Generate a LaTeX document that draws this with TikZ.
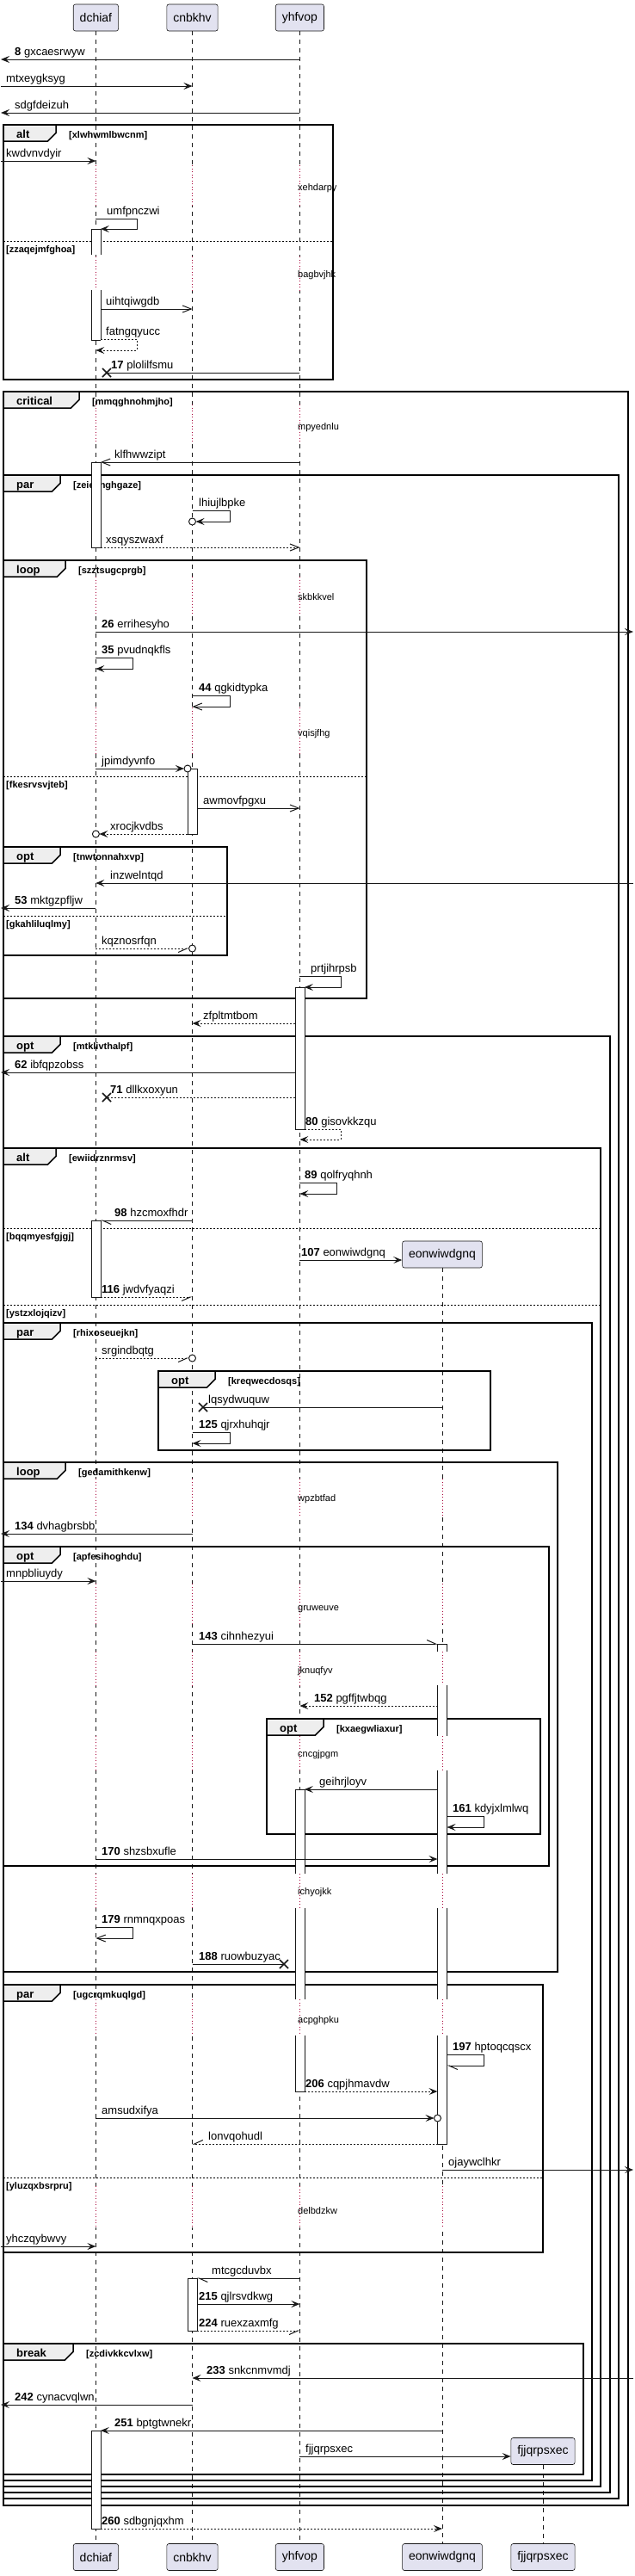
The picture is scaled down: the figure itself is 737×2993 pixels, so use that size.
\documentclass[tikz,border=0pt]{standalone}
\usepackage{fontspec}
\setmainfont{Liberation Sans}
\usepackage{tikz}
\usetikzlibrary{arrows.meta, positioning}

\definecolor{linec}{HTML}{181818}
\definecolor{partfill}{HTML}{E2E2F0}
\definecolor{tabfill}{HTML}{EEEEEE}
\definecolor{dlyc}{HTML}{A80036}

\begin{document}
\begin{tikzpicture}[x=1pt, y=-1pt,
  every node/.style={font=\fontsize{13}{15}\selectfont, inner sep=0pt},
  part/.style={draw=linec, fill=partfill, rounded corners=2.5pt, line width=0.6pt,
               minimum height=31pt, inner xsep=7.5pt, font=\fontsize{14}{16}\selectfont},
  life/.style={linec, line width=0.5pt, dash pattern=on 5pt off 5pt},
  dly/.style={dlyc, line width=0.8pt, dash pattern=on 1pt off 2.5pt},
  dlytxt/.style={anchor=base west, font=\fontsize{11}{13}\selectfont},
  msg/.style={linec, line width=1pt, -{Stealth[length=10pt, width=8pt, inset=4pt]}},
  opn/.style={linec, line width=1pt, -{Straight Barb[length=10pt, width=8pt]}},
  hpl/.style={linec, line width=1pt, -{Straight Barb[length=10pt, width=9pt, harpoon]}},
  hsw/.style={linec, line width=1pt, -{Straight Barb[length=10pt, width=9pt, harpoon, swap]}},
  lnx/.style={linec, line width=1pt},
  rtn/.style={dash pattern=on 2pt off 2pt},
  lbl/.style={anchor=base west},
  xmark/.style={linec, line width=1.5pt},
  endo/.style={draw=linec, fill=white, line width=1pt},
  actbar/.style={draw=linec, fill=white, line width=0.8pt},
  actline/.style={linec, line width=0.8pt},
  frm/.style={draw=black, line width=1.5pt},
  frmtab/.style={draw=black, fill=tabfill, line width=1.5pt},
  tabtxt/.style={anchor=base west, font=\bfseries\fontsize{13}{15}\selectfont},
  cond/.style={anchor=base west, font=\bfseries\fontsize{11}{13}\selectfont},
  divi/.style={black, line width=0.8pt, dash pattern=on 2pt off 2pt},
]
  \useasboundingbox (0,0) rectangle (737,2993);
  \coordinate (lft) at (1,0);
  \coordinate (rgt) at (736,0);

  % participants
  \node[part] (dc) at (111.4,20.5) {dchiaf};
  \node[part] (cn) at (223.5,20.5) {cnbkhv};
  \node[part] (yh) at (348.4,20.5) {yhfvop};
  \node[part] (eo) at (514,1457.5) {eonwiwdgnq};
  \node[part] (fj) at (631,2848) {fjjqrpsxec};
  \node[part] (dcb) at (111.4,2971) {dchiaf};
  \node[part] (cnb) at (223.5,2971) {cnbkhv};
  \node[part] (yhb) at (348.4,2971) {yhfvop};
  \node[part] (eob) at (514,2971) {eonwiwdgnq};
  \node[part] (fjb) at (631,2971) {fjjqrpsxec};

  \foreach \p/\q in {dc/dcb, cn/cnb, yh/yhb, eo/eob, fj/fjb}
    \draw[life] (\p.south) -- (\q.north);

  % delays
  \foreach \ya/\yb/\yt/\txt in {192/238/217/xehdarpy, 298/337/318/bagbvjhk,
      470/513/495/mpyednlu, 670/713/693/skbkkvel, 822/875/851/vqisjfhg} {
    \foreach \p in {dc, cn, yh} {
      \fill[white] ([xshift=-2pt]\p |- 0,\ya) rectangle ([xshift=2pt]\p |- 0,\yb);
      \draw[dly] (\p |- 0,\ya) -- (\p |- 0,\yb);
    }
    \node[dlytxt] (d\yt) at (346,\yt+4) {\txt};
  }
  \foreach \ya/\yb/\yt/\txt in {1718/1763/1740/wpzbtfad, 1840/1887/1867/gruweuve,
      1919/1958/1940/jknuqfyv, 2017/2057/2037/cncgjpgm, 2177/2217/2197/ichyojkk,
      2323/2365/2346/acpghpku, 2540/2588/2568/delbdzkw} {
    \foreach \p in {dc, cn, yh, eo} {
      \fill[white] ([xshift=-2pt]\p |- 0,\ya) rectangle ([xshift=2pt]\p |- 0,\yb);
      \draw[dly] (\p |- 0,\ya) -- (\p |- 0,\yb);
    }
    \node[dlytxt] (d\yt) at (346,\yt+4) {\txt};
  }

  % frames
  \foreach \fl/\ft/\fr/\fb/\tw/\kind/\cnd [count=\i] in {
      4/145/387/441/65/alt/xlwhwmlbwcnm,
      4/455/730/2911/92/critical/mmqghnohmjho,
      4/552/719/2903/70/par/zeiesnghgaze,
      4/651/426/1160/76/loop/szztsugcprgb,
      4/984/264/1110/70/opt/tnwtonnahxvp,
      4/1204/709/2896/70/opt/mtklivthalpf,
      4/1334/698/2889/65/alt/ewiidrznrmsv,
      4/1537/688/2882/70/par/rhixoseuejkn,
      184/1593/570/1685/250/opt/kreqwecdosqs,
      4/1699/648/2291/76/loop/gedamithkenw,
      4/1797/638/2168/70/opt/apfesihoghdu,
      310/1997/628/2131/376/opt/kxaegwliaxur,
      4/2306/631/2617/70/par/ugcrqmkuqlgd,
      4/2723/678/2875/85/break/zcdivkkcvlxw} {
    \draw[frm] (\fl,\ft) rectangle (\fr,\fb);
    \draw[frmtab] (\fl,\ft) -- (\tw,\ft) -- (\tw,\ft+9.5) -- (\tw-9.5,\ft+19)
      -- (\fl,\ft+19) -- cycle;
    \node[tabtxt] (ft\i) at (\fl+15,\ft+15) {\kind};
    \node[cond] (fc\i) at (\tw+15,\ft+15) {[\cnd]};
  }
  \foreach \fr/\y/\cnd [count=\i] in {387/280/zzaqejmfghoa, 426/902/fkesrvsvjteb,
      264/1064/gkahliluqlmy, 698/1427/bqqmyesfgjgj, 698/1516/ystzxlojqizv,
      631/2530/yluzqxbsrpru} {
    \draw[divi] (4,\y) -- (\fr,\y);
    \node[cond] (fe\i) at (7,\y+13) {[\cnd]};
  }

  % activations
  \foreach \p/\ya/\yb in {dc/537/636, cn/893/969, yh/1147/1312, dc/1418/1507,
      cn/2647/2708, dc/2824/2938}
    \draw[actbar] ([xshift=-5.5pt]\p |- 0,\ya) rectangle ([xshift=5.5pt]\p |- 0,\yb);
  \foreach \p/\ya/\yb in {dc/266/296, dc/337/395, eo/1910/1919, eo/1958/2017,
      eo/2057/2177, eo/2217/2323, eo/2365/2491, yh/2079/2177, yh/2217/2323,
      yh/2365/2430} {
    \fill[white] ([xshift=-5.5pt]\p |- 0,\ya) rectangle ([xshift=5.5pt]\p |- 0,\yb);
    \draw[actline] ([xshift=-5.5pt]\p |- 0,\ya) -- ([xshift=-5.5pt]\p |- 0,\yb)
      ([xshift=5.5pt]\p |- 0,\ya) -- ([xshift=5.5pt]\p |- 0,\yb);
  }
  \foreach \p/\y in {dc/266, dc/395, eo/1910, eo/2491, yh/2079, yh/2430}
    \draw[actline] ([xshift=-5.5pt]\p |- 0,\y) -- ([xshift=5.5pt]\p |- 0,\y);

  % messages
  \draw[msg] (yh |- 0,69) -- (lft |- 0,69);
  \node[lbl] (t1) at (17,64.5) {\textbf{8} gxcaesrwyw};
  \draw[msg] (lft |- 0,100) -- (cn |- 0,100);
  \node[lbl] (t2) at (7,95.5) {mtxeygksyg};
  \draw[msg] (yh |- 0,131) -- (lft |- 0,131);
  \node[lbl] (t3) at (17,126.5) {sdgfdeizuh};
  \draw[msg] (lft |- 0,187) -- (dc |- 0,187);
  \node[lbl] (t4) at (7,182.5) {kwdvnvdyir};
  \draw[msg] (dc |- 0,254) -| (159,266) -- ([xshift=5.5pt]dc |- 0,266);
  \node[lbl] (t5) at (124,249.5) {umfpnczwi};
  \draw[opn] ([xshift=5.5pt]dc |- 0,359) -- (cn |- 0,359);
  \node[lbl] (t6) at (123,354.5) {uihtqiwgdb};
  \draw[msg, rtn] ([xshift=5.5pt]dc |- 0,394) -| (159,407) -- (dc |- 0,407);
  \node[lbl] (t7) at (123,389.5) {fatngqyucc};
  \coordinate (x17) at (124,433);
  \draw[lnx] (yh |- 0,433) -- (x17);
  \draw[xmark] (x17) +(-5,-5) -- +(5,5) +(-5,5) -- +(5,-5);
  \node[lbl] (t8) at (129,428.5) {\textbf{17} plolilfsmu};

  \draw[opn] (yh |- 0,537) -- ([xshift=5.5pt]dc |- 0,537);
  \node[lbl] (t9) at (133,532.5) {klfhwwzipt};
  \draw[msg] (cn |- 0,593) -| (267,606) -- ([xshift=4pt]cn |- 0,606);
  \draw[endo] (cn |- 0,606) circle (4pt);
  \node[lbl] (t10) at (231,588.5) {lhiujlbpke};
  \draw[opn, rtn] ([xshift=5.5pt]dc |- 0,636) -- (yh |- 0,636);
  \node[lbl] (t11) at (123,631.5) {xsqyszwaxf};

  \draw[msg] (dc |- 0,734) -- (rgt |- 0,734);
  \node[lbl] (t12) at (118,729.5) {\textbf{26} errihesyho};
  \draw[msg] (dc |- 0,764) -| (154,777) -- (dc |- 0,777);
  \node[lbl] (t13) at (118,759.5) {\textbf{35} pvudnqkfls};
  \draw[opn] (cn |- 0,808) -| (267,821) -- (cn |- 0,821);
  \node[lbl] (t14) at (231,803.5) {\textbf{44} qgkidtypka};
  \draw[msg] (dc |- 0,893) -- ([xshift=-9.5pt]cn |- 0,893);
  \draw[endo] ([xshift=-5.5pt]cn |- 0,893) circle (4pt);
  \node[lbl] (t15) at (118,888.5) {jpimdyvnfo};
  \draw[opn] ([xshift=5.5pt]cn |- 0,939) -- (yh |- 0,939);
  \node[lbl] (t16) at (236,934.5) {awmovfpgxu};
  \draw[msg, rtn] ([xshift=-5.5pt]cn |- 0,969) -- ([xshift=4pt]dc |- 0,969);
  \draw[endo] (dc |- 0,969) circle (4pt);
  \node[lbl] (t17) at (128,964.5) {xrocjkvdbs};

  \draw[msg] (rgt |- 0,1026) -- (dc |- 0,1026);
  \node[lbl] (t18) at (128,1021.5) {inzwelntqd};
  \draw[msg] (dc |- 0,1055) -- (lft |- 0,1055);
  \node[lbl] (t19) at (17,1050.5) {\textbf{53} mktgzpfljw};
  \draw[hsw, rtn] (dc |- 0,1102) -- ([xshift=-4pt]cn |- 0,1102);
  \draw[endo] (cn |- 0,1102) circle (4pt);
  \node[lbl] (t20) at (118,1097.5) {kqznosrfqn};
  \draw[msg] (yh |- 0,1134) -| (396,1147) -- ([xshift=5.5pt]yh |- 0,1147);
  \node[lbl] (t21) at (361,1129.5) {prtjihrpsb};
  \draw[msg, rtn] ([xshift=-5.5pt]yh |- 0,1189) -- (cn |- 0,1189);
  \node[lbl] (t22) at (236,1184.5) {zfpltmtbom};

  \draw[msg] ([xshift=-5.5pt]yh |- 0,1246) -- (lft |- 0,1246);
  \node[lbl] (t23) at (17,1241.5) {\textbf{62} ibfqpzobss};
  \coordinate (x71) at (124,1275);
  \draw[lnx, rtn] ([xshift=-5.5pt]yh |- 0,1275) -- (x71);
  \draw[xmark] (x71) +(-5,-5) -- +(5,5) +(-5,5) -- +(5,-5);
  \node[lbl] (t24) at (128,1270.5) {\textbf{71} dllkxoxyun};
  \draw[msg, rtn] ([xshift=5.5pt]yh |- 0,1312) -| (396,1324) -- (yh |- 0,1324);
  \node[lbl] (t25) at (355,1307.5) {\textbf{80} gisovkkzqu};

  \draw[msg] (yh |- 0,1374) -| (391,1387) -- (yh |- 0,1387);
  \node[lbl] (t26) at (354,1369.5) {\textbf{89} qolfryqhnh};
  \draw[hpl] (cn |- 0,1418) -- ([xshift=5.5pt]dc |- 0,1418);
  \node[lbl] (t27) at (133,1413.5) {\textbf{98} hzcmoxfhdr};
  \draw[msg] (yh |- 0,1464) -- (eo.west |- 0,1464);
  \node[lbl] (t28) at (350,1459.5) {\textbf{107} eonwiwdgnq};
  \draw[hsw, rtn] ([xshift=5.5pt]dc |- 0,1507) -- (cn |- 0,1507);
  \node[lbl] (t29) at (118,1502.5) {\textbf{116} jwdvfyaqzi};

  \draw[hsw, rtn] (dc |- 0,1578) -- ([xshift=-4pt]cn |- 0,1578);
  \draw[endo] (cn |- 0,1578) circle (4pt);
  \node[lbl] (t30) at (118,1573.5) {srgindbqtg};
  \coordinate (x125) at (236,1635);
  \draw[lnx] (eo |- 0,1635) -- (x125);
  \draw[xmark] (x125) +(-5,-5) -- +(5,5) +(-5,5) -- +(5,-5);
  \node[lbl] (t31) at (242,1630.5) {lqsydwuquw};
  \draw[msg] (cn |- 0,1664) -| (267,1677) -- (cn |- 0,1677);
  \node[lbl] (t32) at (231,1659.5) {\textbf{125} qjrxhuhqjr};

  \draw[msg] (cn |- 0,1782) -- (lft |- 0,1782);
  \node[lbl] (t33) at (17,1777.5) {\textbf{134} dvhagbrsbb};
  \draw[msg] (lft |- 0,1837) -- (dc |- 0,1837);
  \node[lbl] (t34) at (7,1832.5) {mnpbliuydy};
  \draw[hpl] (cn |- 0,1910) -- ([xshift=-5.5pt]eo |- 0,1910);
  \node[lbl] (t35) at (231,1905.5) {\textbf{143} cihnhezyui};
  \draw[msg, rtn] ([xshift=-5.5pt]eo |- 0,1982) -- (yh |- 0,1982);
  \node[lbl] (t36) at (365,1977.5) {\textbf{152} pgffjtwbqg};
  \draw[msg] ([xshift=-5.5pt]eo |- 0,2079) -- ([xshift=5.5pt]yh |- 0,2079);
  \node[lbl] (t37) at (371,2074.5) {geihrjloyv};
  \draw[msg] ([xshift=5.5pt]eo |- 0,2110) -| (562,2123) -- ([xshift=5.5pt]eo |- 0,2123);
  \node[lbl] (t38) at (526,2105.5) {\textbf{161} kdyjxlmlwq};
  \draw[msg] (dc |- 0,2160) -- ([xshift=-5.5pt]eo |- 0,2160);
  \node[lbl] (t39) at (118,2155.5) {\textbf{170} shzsbxufle};
  \draw[opn] (dc |- 0,2239) -| (154,2252) -- (dc |- 0,2252);
  \node[lbl] (t40) at (118,2234.5) {\textbf{179} rnmnqxpoas};
  \coordinate (x188) at (330,2282);
  \draw[lnx] (cn |- 0,2282) -- (x188);
  \draw[xmark] (x188) +(-5,-5) -- +(5,5) +(-5,5) -- +(5,-5);
  \node[lbl] (t41) at (231,2277.5) {\textbf{188} ruowbuzyac};

  \draw[hpl] ([xshift=5.5pt]eo |- 0,2387) -| (562,2400) -- ([xshift=5.5pt]eo |- 0,2400);
  \node[lbl] (t42) at (526,2382.5) {\textbf{197} hptoqcqscx};
  \draw[msg, rtn] ([xshift=5.5pt]yh |- 0,2430) -- ([xshift=-5.5pt]eo |- 0,2430);
  \node[lbl] (t43) at (355,2425.5) {\textbf{206} cqpjhmavdw};
  \draw[msg] (dc |- 0,2461) -- ([xshift=-9.5pt]eo |- 0,2461);
  \draw[endo] ([xshift=-5.5pt]eo |- 0,2461) circle (4pt);
  \node[lbl] (t44) at (118,2456.5) {amsudxifya};
  \draw[hsw, rtn] ([xshift=-5.5pt]eo |- 0,2491) -- (cn |- 0,2491);
  \node[lbl] (t45) at (242,2486.5) {lonvqohudl};
  \draw[msg] (eo |- 0,2521) -- (rgt |- 0,2521);
  \node[lbl] (t46) at (521,2516.5) {ojaywclhkr};
  \draw[msg] (lft |- 0,2610) -- (dc |- 0,2610);
  \node[lbl] (t47) at (7,2605.5) {yhczqybwvy};

  \draw[hpl] (yh |- 0,2647) -- ([xshift=5.5pt]cn |- 0,2647);
  \node[lbl] (t48) at (246,2642.5) {mtcgcduvbx};
  \draw[msg] ([xshift=5.5pt]cn |- 0,2677) -- (yh |- 0,2677);
  \node[lbl] (t49) at (231,2672.5) {\textbf{215} qjlrsvdkwg};
  \draw[hsw, rtn] ([xshift=5.5pt]cn |- 0,2708) -- (yh |- 0,2708);
  \node[lbl] (t50) at (231,2703.5) {\textbf{224} ruexzaxmfg};

  \draw[msg] (rgt |- 0,2763) -- (cn |- 0,2763);
  \node[lbl] (t51) at (240,2758.5) {\textbf{233} snkcnmvmdj};
  \draw[msg] (cn |- 0,2794) -- (lft |- 0,2794);
  \node[lbl] (t52) at (17,2789.5) {\textbf{242} cynacvqlwn};
  \draw[msg] (eo |- 0,2824) -- ([xshift=5.5pt]dc |- 0,2824);
  \node[lbl] (t53) at (133,2819.5) {\textbf{251} bptgtwnekr};
  \draw[msg] (yh |- 0,2854) -- (fj.west |- 0,2854);
  \node[lbl] (t54) at (355,2849.5) {fjjqrpsxec};
  \draw[msg, rtn] ([xshift=5.5pt]dc |- 0,2938) -- (eo |- 0,2938);
  \node[lbl] (t55) at (118,2933.5) {\textbf{260} sdbgnjqxhm};
\end{tikzpicture}
\end{document}
